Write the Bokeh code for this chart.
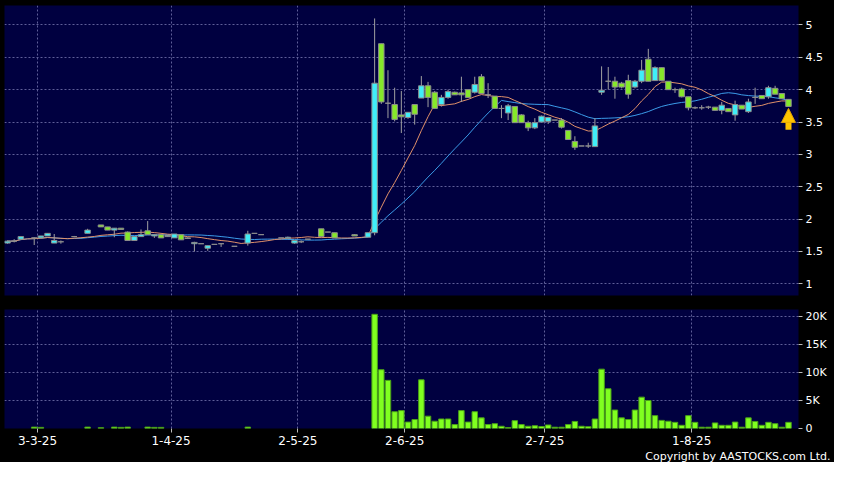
import numpy as np
import pandas as pd
from bokeh.plotting import figure
from bokeh.layouts import column
from bokeh.models import ColumnDataSource, Range1d, FixedTicker, Title, Arrow, NormalHead
from bokeh.embed import file_html
from bokeh.resources import INLINE

nan = float("nan")

# ---- data ----
opens = [1.63, 1.66, 1.69, nan, 1.71, 1.71, 1.74, 1.63, 1.65, nan,
         1.73, nan, 1.78, nan, 1.91, 1.88, 1.83, 1.86, 1.80, 1.67,
         1.73, 1.82, 1.74, 1.76, 1.73, 1.71, 1.76, 1.71, 1.62, 1.62,
         1.55, 1.61, 1.62, nan, 1.58, nan, 1.63, 1.78, 1.76, nan,
         nan, 1.71, 1.70, 1.63, 1.65, 1.69, nan, 1.85, 1.80, 1.79,
         nan, nan, 1.76, nan, 1.72, 1.79, 4.71, 3.79, 3.77, 3.61,
         3.57, 3.77, 3.87, 4.06, 3.96, 3.77, 3.88, 3.96, 3.95, 4.00,
         3.96, 4.20, 3.92, 3.90, 3.71, 3.64, 3.74, 3.61, 3.49, 3.41,
         3.50, 3.51, 3.53, 3.53, 3.37, 3.20, 3.13, 3.13, 3.12, 3.96,
         4.13, 4.13, 4.10, 4.14, 4.04, 4.13, 4.47, 4.14, 4.34, 4.13,
         4.00, 4.01, 3.89, 3.72, 3.72, 3.73, 3.73, 3.68, 3.71, 3.61,
         3.76, 3.66, 3.88, 3.91, 3.89, 4.02, 3.94, 3.85]
highs = [1.67, 1.69, 1.73, nan, 1.72, 1.74, 1.78, 1.77, 1.67, nan,
         1.74, nan, 1.85, nan, 1.91, 1.88, 1.86, 1.86, 1.81, 1.73,
         1.84, 1.97, 1.77, 1.76, 1.75, 1.77, 1.76, 1.72, 1.65, 1.62,
         1.59, 1.61, 1.62, nan, 1.58, nan, 1.82, 1.78, 1.76, nan,
         nan, 1.71, 1.73, 1.67, 1.67, 1.69, nan, 1.85, 1.80, 1.79,
         nan, nan, 1.77, nan, 1.79, 5.10, 4.71, 4.30, 4.03, 3.98,
         3.65, 3.77, 4.21, 4.12, 3.98, 3.92, 4.00, 3.97, 4.20, 4.00,
         4.20, 4.24, 4.10, 3.90, 3.76, 3.78, 3.74, 3.62, 3.52, 3.56,
         3.60, 3.58, 3.53, 3.56, 3.37, 3.28, 3.13, 3.18, 3.56, 4.36,
         4.35, 4.20, 4.12, 4.23, 4.15, 4.46, 4.63, 4.36, 4.34, 4.13,
         4.03, 4.03, 3.89, 3.74, 3.76, 3.75, 3.73, 3.81, 3.71, 3.83,
         3.76, 3.86, 4.03, 3.91, 4.06, 4.06, 3.94, 3.85]
lows = [1.62, 1.64, 1.69, nan, 1.60, 1.71, 1.74, 1.63, 1.62, nan,
        1.72, nan, 1.78, nan, 1.88, 1.83, 1.72, 1.84, 1.67, 1.67,
        1.73, 1.76, 1.71, 1.71, 1.73, 1.71, 1.68, 1.70, 1.50, 1.62,
        1.51, 1.61, 1.57, nan, 1.58, nan, 1.59, 1.78, 1.76, nan,
        nan, 1.71, 1.69, 1.62, 1.63, 1.69, nan, 1.73, 1.80, 1.71,
        nan, nan, 1.74, nan, 1.72, 1.75, 3.78, 3.56, 3.51, 3.33,
        3.55, 3.46, 3.87, 3.73, 3.71, 3.74, 3.86, 3.92, 3.81, 3.88,
        3.94, 3.94, 3.87, 3.71, 3.56, 3.53, 3.49, 3.49, 3.36, 3.39,
        3.50, 3.47, 3.53, 3.40, 3.23, 3.07, 3.13, 3.10, 3.12, 3.92,
        4.00, 3.86, 4.02, 3.86, 4.02, 4.10, 4.13, 4.14, 4.14, 4.00,
        3.95, 3.88, 3.68, 3.70, 3.69, 3.70, 3.68, 3.62, 3.66, 3.52,
        3.70, 3.64, 3.78, 3.86, 3.86, 3.93, 3.86, 3.74]
closes = [1.66, 1.66, 1.73, nan, 1.71, 1.74, 1.78, 1.67, 1.65, nan,
          1.73, nan, 1.83, nan, 1.88, 1.83, 1.86, 1.84, 1.67, 1.73,
          1.76, 1.76, 1.76, 1.71, 1.75, 1.77, 1.68, 1.70, 1.64, 1.62,
          1.59, 1.61, 1.62, nan, 1.58, nan, 1.77, 1.78, 1.76, nan,
          nan, 1.71, 1.72, 1.67, 1.65, 1.69, nan, 1.73, 1.80, 1.71,
          nan, nan, 1.74, nan, 1.79, 4.10, 3.81, 3.79, 3.54, 3.58,
          3.65, 3.62, 4.06, 3.88, 3.71, 3.88, 3.97, 3.92, 3.92, 3.88,
          4.08, 3.94, 3.92, 3.71, 3.71, 3.75, 3.49, 3.49, 3.41, 3.49,
          3.59, 3.57, 3.53, 3.42, 3.23, 3.11, 3.13, 3.13, 3.44, 3.99,
          4.13, 4.04, 4.04, 3.93, 4.13, 4.30, 4.13, 4.34, 4.14, 4.00,
          4.00, 3.89, 3.72, 3.72, 3.72, 3.73, 3.68, 3.76, 3.66, 3.77,
          3.70, 3.81, 3.88, 3.86, 4.03, 3.93, 3.86, 3.74]
volumes = [0, 0, 0, 0, 250, 200, 0, 0, 0, 0,
           0, 0, 250, 0, 150, 0, 250, 200, 250, 0,
           0, 250, 200, 200, 0, 0, 0, 0, 0, 0,
           0, 0, 0, 0, 0, 0, 250, 0, 0, 0,
           0, 0, 0, 0, 0, 0, 0, 0, 0, 0,
           0, 0, 0, 0, 0, 20400, 10500, 8600, 3000, 3200,
           1150, 1600, 8700, 2200, 1300, 1700, 1700, 700, 3200, 1150,
           3000, 1900, 700, 860, 400, 170, 1400, 700, 400, 500,
           350, 630, 230, 230, 700, 1260, 400, 320, 1700, 10600,
           7100, 3300, 1900, 1600, 3300, 5600, 5000, 2300, 1450, 1300,
           1100, 570, 2300, 1100, 230, 230, 1000, 570, 570, 1150,
           230, 1900, 1260, 570, 1100, 860, 230, 1100]

date_tick_pos = [4.5, 24.5, 43.5, 59.5, 80.5, 102.5]
date_tick_labels = ["3-3-25", "1-4-25", "2-5-25", "2-6-25", "2-7-25", "1-8-25"]
price_ticks = [1, 1.5, 2, 2.5, 3, 3.5, 4, 4.5, 5]
price_tick_labels = ["1", "1.5", "2", "2.5", "3", "3.5", "4", "4.5", "5"]
vol_ticks = [0, 5000, 10000, 15000, 20000]
vol_tick_labels = ["0", "5K", "10K", "15K", "20K"]
ma_short_n = 10
ma_long_n = 20

# ---- styling ----
NAVY = "#000040"
GRID = "#5e5e98"
UP = "#40eef8"
DOWN = "#86e82a"
DOJI = "#9a9a9a"
VOL = "#80ff20"
FONT = "DejaVu Sans"

df = pd.DataFrame(dict(o=opens, h=highs, l=lows, c=closes, v=volumes))
df["idx"] = np.arange(len(df))
df["top"] = df[["o", "c"]].max(axis=1)
df["bot"] = df[["o", "c"]].min(axis=1)
df["color"] = np.where(df.c > df.o, UP, np.where(df.c < df.o, DOWN, DOJI))
cf = df.c.ffill()
df["ma_s"] = cf.rolling(ma_short_n, min_periods=1).mean()
df["ma_l"] = cf.rolling(ma_long_n, min_periods=1).mean()

cand = df.dropna(subset=["o"])
src = ColumnDataSource(cand)
ma_src = ColumnDataSource(df[["idx", "ma_s", "ma_l"]])
vsrc = ColumnDataSource(df[df.v > 0])

xr = Range1d(-0.45, len(df) + 0.5)

def style_axis(ax, size="11px"):
    ax.axis_line_color = None
    ax.major_tick_line_color = "#bbbbbb"
    ax.major_tick_out = 4
    ax.major_tick_in = 0
    ax.minor_tick_line_color = None
    ax.major_label_text_color = "white"
    ax.major_label_text_font = FONT
    ax.major_label_text_font_size = size
    ax.major_label_standoff = 3

def style_grid(p):
    for g in (p.xgrid, p.ygrid):
        g.grid_line_color = GRID
        g.grid_line_dash = "2 2"
        g.grid_line_width = 1

p1 = figure(width=834, height=302, x_range=xr, y_range=Range1d(0.82, 5.30),
            x_axis_location=None, y_axis_location="right",
            toolbar_location=None, output_backend="svg",
            background_fill_color=NAVY, border_fill_color="black",
            outline_line_color=None,
            min_border_left=4, min_border_right=36, min_border_top=5, min_border_bottom=7)
p1.yaxis.ticker = FixedTicker(ticks=price_ticks)
p1.yaxis.major_label_overrides = dict(zip(price_ticks, price_tick_labels))
style_axis(p1.yaxis[0])
p1.xgrid.ticker = FixedTicker(ticks=date_tick_pos)
style_grid(p1)

p1.line("idx", "ma_l", source=ma_src, line_color="#3b9be8", line_width=1)
p1.line("idx", "ma_s", source=ma_src, line_color="#e0906a", line_width=1)
p1.segment(x0="idx", y0="l", x1="idx", y1="h", source=src, line_color="#a0a0a0", line_width=1)
p1.vbar(x="idx", top="top", bottom="bot", width=0.82, source=src,
        fill_color="color", line_color="#8c8c8c", line_width=1)

last_i = int(df.idx.iloc[-1])
last_c = float(df.c.iloc[-1])
p1.add_layout(Arrow(end=NormalHead(size=14, fill_color="#ffc400", line_color="#e0a000"),
                    x_start=last_i, y_start=last_c - 0.36, x_end=last_i, y_end=last_c - 0.03,
                    line_color="#ffc400", line_width=6))

p2 = figure(width=834, height=160, x_range=xr, y_range=Range1d(0, 21260),
            y_axis_location="right",
            toolbar_location=None, output_backend="svg",
            background_fill_color=NAVY, border_fill_color="black",
            outline_line_color=None,
            min_border_left=4, min_border_right=36, min_border_top=7, min_border_bottom=0)
p2.yaxis.ticker = FixedTicker(ticks=vol_ticks)
p2.yaxis.major_label_overrides = dict(zip(vol_ticks, vol_tick_labels))
style_axis(p2.yaxis[0])
p2.xaxis.ticker = FixedTicker(ticks=date_tick_pos)
p2.xaxis.major_label_overrides = dict(zip(date_tick_pos, date_tick_labels))
style_axis(p2.xaxis[0], "12px")
style_grid(p2)
p2.vbar(x="idx", top="v", width=0.82, source=vsrc, fill_color=VOL, line_color="#4aa018", line_width=1)

p2.add_layout(Title(text="Copyright by AASTOCKS.com Ltd.", align="right",
                    text_color="white", text_font=FONT, text_font_size="11px",
                    text_font_style="normal", standoff=0, offset=-32), "below")

layout = column(p1, p2, spacing=0, styles={"background-color": "black"})
open("out.html", "w").write(file_html(layout, INLINE))
